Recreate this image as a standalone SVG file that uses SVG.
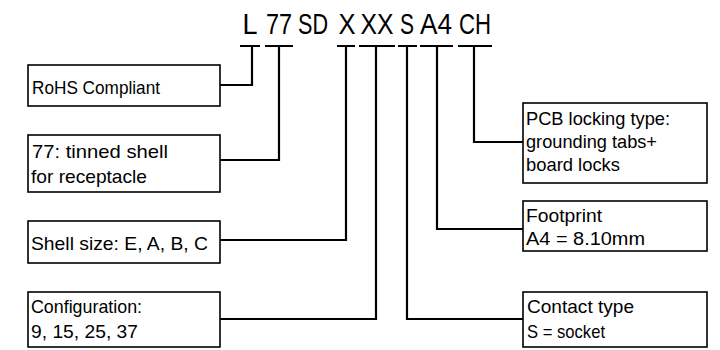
<svg xmlns="http://www.w3.org/2000/svg" width="720" height="350" viewBox="0 0 720 350">
<style>
.bx{fill:#fff;stroke:#000;stroke-width:1.6}
.ln{fill:none;stroke:#000;stroke-width:2.2}
.lb{font-family:"Liberation Sans Narrow","Liberation Sans",Arial,sans-serif;font-size:18.5px;fill:#000}
.tt{font-family:"Liberation Sans Narrow","Liberation Sans",Arial,sans-serif;font-size:29px;fill:#000;text-anchor:middle}
</style>
<rect width="720" height="350" fill="#fff"/>
<g id="title" class="tt">
<text x="250" y="34" textLength="15" lengthAdjust="spacingAndGlyphs">L</text>
<text x="279" y="34" textLength="26" lengthAdjust="spacingAndGlyphs">77</text>
<text x="313" y="34" textLength="30" lengthAdjust="spacingAndGlyphs">SD</text>
<text x="347" y="34" textLength="17" lengthAdjust="spacingAndGlyphs">X</text>
<text x="377" y="34" textLength="33" lengthAdjust="spacingAndGlyphs">XX</text>
<text x="407" y="34" textLength="14" lengthAdjust="spacingAndGlyphs">S</text>
<text x="436" y="34" textLength="32" lengthAdjust="spacingAndGlyphs">A4</text>
<text x="475" y="34" textLength="32" lengthAdjust="spacingAndGlyphs">CH</text>
</g>
<g id="connectors" class="ln">
<path d="M240 46H260M252 46V85H220"/>
<path d="M265 46H293M279 46V160H220"/>
<path d="M337 46H355M346 46V240H220"/>
<path d="M359 46H395M376 46V319H220"/>
<path d="M398 46H417M407 46V319H523"/>
<path d="M420 46H453M437 46V229H523"/>
<path d="M458 46H492M474 46V142H523"/>
</g>
<g id="rohs">
<rect class="bx" x="28" y="65" width="192" height="41"/>
<text class="lb" x="32" y="94" textLength="128" lengthAdjust="spacingAndGlyphs">RoHS Compliant</text>
</g>
<g id="shell77">
<rect class="bx" x="28" y="135" width="192" height="57"/>
<text class="lb" x="32" y="158" textLength="136" lengthAdjust="spacingAndGlyphs">77: tinned shell</text>
<text class="lb" x="31" y="183" textLength="116" lengthAdjust="spacingAndGlyphs">for receptacle</text>
</g>
<g id="shellsize">
<rect class="bx" x="28" y="221" width="192" height="42"/>
<text class="lb" x="31" y="250" textLength="177" lengthAdjust="spacingAndGlyphs">Shell size: E, A, B, C</text>
</g>
<g id="config">
<rect class="bx" x="28" y="292" width="192" height="55"/>
<text class="lb" x="31" y="313" textLength="111" lengthAdjust="spacingAndGlyphs">Configuration:</text>
<text class="lb" x="31" y="338" textLength="107" lengthAdjust="spacingAndGlyphs">9, 15, 25, 37</text>
</g>
<g id="pcb">
<rect class="bx" x="523" y="103" width="184" height="80"/>
<text class="lb" x="526" y="125" textLength="144" lengthAdjust="spacingAndGlyphs">PCB locking type:</text>
<text class="lb" x="526" y="148" textLength="131" lengthAdjust="spacingAndGlyphs">grounding tabs+</text>
<text class="lb" x="526" y="171" textLength="94" lengthAdjust="spacingAndGlyphs">board locks</text>
</g>
<g id="footprint">
<rect class="bx" x="523" y="201" width="184" height="50"/>
<text class="lb" x="526" y="222" textLength="76" lengthAdjust="spacingAndGlyphs">Footprint</text>
<text class="lb" x="526" y="245" textLength="119" lengthAdjust="spacingAndGlyphs">A4 = 8.10mm</text>
</g>
<g id="contact">
<rect class="bx" x="523" y="292" width="184" height="55"/>
<text class="lb" x="527" y="313" textLength="107" lengthAdjust="spacingAndGlyphs">Contact type</text>
<text class="lb" x="527" y="338" textLength="78" lengthAdjust="spacingAndGlyphs">S = socket</text>
</g>
</svg>
